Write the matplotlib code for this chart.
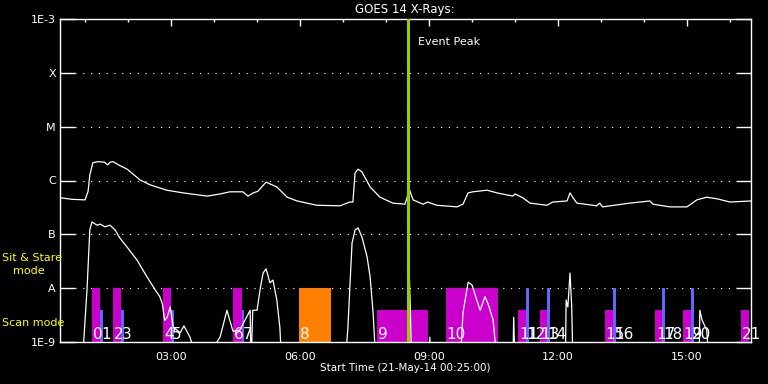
import matplotlib
matplotlib.use("Agg")
import matplotlib.pyplot as plt
import numpy as np

# GOES-14 long channel (1-8 A), hours of 21-May-14, log10 flux
long_t = [0.42, 0.70, 1.00, 1.07, 1.11, 1.18, 1.30, 1.45, 1.53, 1.58, 1.65, 1.80, 1.98,
          2.28, 2.51, 2.90, 3.28, 3.84, 4.14, 4.37, 4.67, 4.79, 4.91, 5.02, 5.21, 5.46,
          5.70, 5.93, 6.39, 6.93, 7.16, 7.23, 7.28, 7.35, 7.44, 7.63, 7.86, 8.16, 8.44,
          8.49, 8.53, 8.63, 8.86, 8.97, 9.18, 9.65, 9.79, 9.91, 10.02, 10.35, 10.58,
          10.95, 11.00, 11.18, 11.35, 11.74, 11.88, 12.21, 12.28, 12.35, 12.44, 12.90,
          12.97, 13.04, 13.67, 14.14, 14.21, 14.60, 15.00, 15.23, 15.46, 15.70, 16.00, 16.49]
long_log = [-6.32, -6.35, -6.36, -6.20, -5.90, -5.67, -5.65, -5.66, -5.71, -5.66, -5.65,
            -5.72, -5.79, -5.99, -6.08, -6.18, -6.23, -6.29, -6.25, -6.21, -6.21, -6.29,
            -6.23, -6.20, -6.03, -6.12, -6.31, -6.38, -6.46, -6.47, -6.40, -6.40, -5.86,
            -5.79, -5.84, -6.12, -6.31, -6.42, -6.44, -6.32, -6.14, -6.36, -6.44, -6.40,
            -6.46, -6.49, -6.44, -6.23, -6.21, -6.18, -6.23, -6.29, -6.25, -6.32, -6.42,
            -6.46, -6.40, -6.38, -6.23, -6.32, -6.42, -6.47, -6.42, -6.49, -6.42, -6.38,
            -6.44, -6.49, -6.49, -6.36, -6.31, -6.34, -6.40, -6.38]

# short channel (0.5-4 A); -9.5 = below the plot floor
short_t = [0.42, 0.95, 0.97, 1.045, 1.11, 1.16, 1.28, 1.35, 1.46, 1.58, 1.70, 1.81, 1.98,
           2.21, 2.44, 2.63, 2.74, 2.80, 2.85, 2.91, 2.98, 3.05, 3.21, 3.30, 3.44, 3.67,
           4.14, 4.30, 4.44, 4.60, 4.84, 4.86, 4.90, 5.00, 5.07, 5.14, 5.21, 5.30, 5.37,
           5.46, 5.53, 5.58, 7.04, 7.11, 7.21, 7.28, 7.35, 7.44, 7.56, 7.63, 7.70, 7.77,
           8.51, 8.53, 8.56, 8.60, 9.00, 9.02, 9.04, 9.72, 9.79, 9.91, 10.00, 10.11, 10.19,
           10.30, 10.37, 10.49, 10.60, 10.95, 10.97, 11.00, 12.17, 12.19, 12.23, 12.28,
           12.32, 12.35, 15.28, 15.30, 15.35, 15.46, 15.52, 16.49]
short_log = [-9.5, -9.5, -8.96, -8.03, -6.92, -6.77, -6.83, -6.81, -6.86, -6.83, -6.92,
             -7.07, -7.24, -7.48, -7.79, -8.03, -8.16, -8.30, -8.60, -8.54, -8.35, -8.72,
             -8.83, -8.70, -8.91, -9.5, -8.91, -8.41, -8.80, -8.78, -8.41, -9.5, -8.41,
             -8.41, -8.03, -7.72, -7.64, -7.90, -7.85, -8.22, -8.72, -9.5, -9.5, -8.78,
             -7.16, -6.92, -6.88, -7.05, -7.42, -7.79, -8.46, -9.5, -9.5, -7.48, -8.22,
             -9.5, -9.5, -8.91, -9.5, -9.5, -8.46, -7.89, -7.94, -8.22, -8.41, -8.16,
             -8.28, -8.59, -9.5, -9.5, -8.54, -9.5, -9.5, -8.22, -8.35, -7.72, -8.35,
             -9.5, -9.5, -8.41, -8.59, -8.78, -9.5, -9.5]

# observation windows (hours), mode and bar top (flux)
bar_start = [1.16, 1.35, 1.65, 1.84, 2.81, 3.00, 4.44, 4.65, 5.98, 7.79, 9.39, 11.07,
             11.25, 11.58, 11.74, 13.09, 13.28, 14.26, 14.42, 14.90, 15.09, 16.25]
bar_end = [1.35, 1.42, 1.84, 1.91, 3.00, 3.07, 4.65, 4.70, 6.72, 8.98, 10.60, 11.25,
           11.32, 11.74, 11.81, 13.28, 13.35, 14.42, 14.49, 15.09, 15.16, 16.44]
bar_kind = ["stare", "scan", "stare", "scan", "stare", "scan", "stare", "scan", "orange",
            "raster", "stare", "raster", "blue", "raster", "blue", "raster", "blue",
            "raster", "blue", "raster", "blue", "raster"]
bar_top = [1e-8, 3.9e-9, 1e-8, 3.9e-9, 1e-8, 3.9e-9, 1e-8, 3.9e-9, 1e-8, 3.9e-9, 1e-8,
           3.9e-9, 1e-8, 3.9e-9, 1e-8, 3.9e-9, 1e-8, 3.9e-9, 1e-8, 3.9e-9, 1e-8, 3.9e-9]

event_peak = 8.50
t0, t1 = 25 / 60, 16.49

level_vals = [1e-9, 1e-8, 1e-7, 1e-6, 1e-5, 1e-4, 1e-3]
level_lbls = ["1E-9", "A", "B", "C", "M", "X", "1E-3"]
hour_ticks = [3, 6, 9, 12, 15]

kind_color = {"stare": "#CC00CC", "raster": "#CC00CC", "scan": "#6464FF",
              "blue": "#6464FF", "orange": "#FF8000"}

plt.rcParams['font.family'] = ['DejaVu Sans']
fig = plt.figure(figsize=(7.68, 3.84), dpi=100, facecolor="black")
ax = fig.add_axes([60 / 768, 42 / 384, 691 / 768, 323 / 384], facecolor="black")
ax.set_yscale("log")
ax.set_ylim(1e-9, 1e-3)
ax.set_xlim(t0, t1)

for s, e, k, top in zip(bar_start, bar_end, bar_kind, bar_top):
    ax.bar(s, top - 1e-9, width=e - s, bottom=1e-9, align="edge",
           color=kind_color[k], linewidth=0, zorder=2)

for i, s in enumerate(bar_start):
    ax.text(s + 0.02, 0.008, str(i), color="white", fontsize=11,
            transform=ax.get_xaxis_transform(), ha="left", va="baseline", zorder=4)

ax.plot(long_t, 10 ** np.array(long_log), color="white", lw=0.9, zorder=3)
ax.plot(short_t, 10 ** np.array(short_log), color="white", lw=0.9, zorder=3)

ax.axvline(event_peak, color="#99CC00", lw=2.2, zorder=5)
ax.text(event_peak + 0.25, 0.93, "Event Peak", color="white", fontsize=8,
        transform=ax.get_xaxis_transform(), va="center", ha="left")

for v in level_vals[1:-1]:
    ax.axhline(v, xmin=0.022, xmax=0.978, color="white", lw=0.8,
               linestyle=(0, (1, 6)), zorder=1)

for sp in ax.spines.values():
    sp.set_color("white")
    sp.set_linewidth(1.0)

ax.set_yticks(level_vals)
ax.set_yticklabels(level_lbls)
ax.yaxis.set_minor_locator(matplotlib.ticker.NullLocator())
ax.tick_params(axis="y", which="major", direction="in", left=True, right=True,
               length=11, width=1.0, color="white", labelcolor="white",
               labelsize=8, pad=3)

ax.set_xticks(hour_ticks)
ax.set_xticklabels([f"{h:02d}:00" for h in hour_ticks])
ax.set_xticks(range(1, 17), minor=True)
ax.tick_params(axis="x", which="both", direction="in", top=True, bottom=False,
               labelbottom=True, color="white", labelcolor="white", labelsize=8,
               width=1.0, pad=7)
ax.tick_params(axis="x", which="major", length=5)
ax.tick_params(axis="x", which="minor", length=2.5)

fig.text(405 / 768, 1 - 10 / 384, "GOES 14 X-Rays:", color="white", fontsize=8.5,
         ha="center", va="center")
fig.text(405 / 768, 1 - 368 / 384, "Start Time (21-May-14 00:25:00)", color="white",
         fontsize=7.5, ha="center", va="center")
fig.text(2 / 768, 1 - 258 / 384, "Sit & Stare", color="yellow", fontsize=8,
         ha="left", va="center")
fig.text(13 / 768, 1 - 271 / 384, "mode", color="yellow", fontsize=8,
         ha="left", va="center")
fig.text(2 / 768, 1 - 323 / 384, "Scan mode", color="yellow", fontsize=8,
         ha="left", va="center")

fig.savefig("out.png", dpi=100, facecolor="black")
